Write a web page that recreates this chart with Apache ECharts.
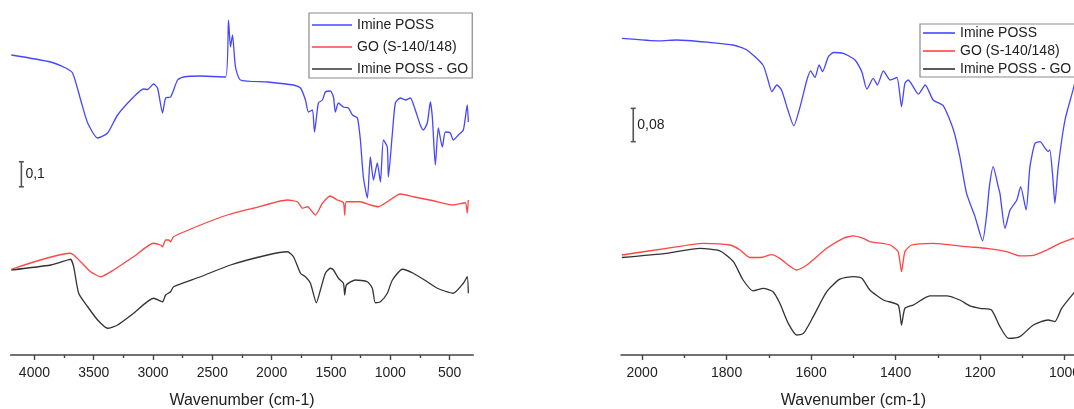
<!DOCTYPE html>
<html>
<head>
<meta charset="utf-8">
<script src="https://cdn.jsdelivr.net/npm/echarts@6/dist/echarts.min.js"></script>
<style>
  html, body { margin: 0; padding: 0; background: #fff; }
  #chart { width: 1074px; height: 409px; }
</style>
</head>
<body>
<div id="chart"></div>
<script>
// FTIR spectra, [wavenumber (cm-1), offset absorbance]
const seriesNames = ['Imine POSS', 'GO (S-140/148)', 'Imine POSS - GO'];

// Full range 4200-300 cm-1
const fullImine = [
  [4195,1.200],[3863,1.172],[3737,1.148],[3678,1.128],[3610,1.020],[3551,0.928],[3467,0.868],[3383,0.888],
  [3299,0.960],[3164,1.032],[3080,1.064],[3046,1.062],[2996,1.084],[2962,1.068],[2920,0.968],[2894,1.028],
  [2852,1.032],[2793,1.100],[2743,1.112],[2600,1.116],[2389,1.112],[2364,1.340],[2347,1.232],[2330,1.280],
  [2305,1.152],[2263,1.100],[2035,1.092],[1816,1.080],[1757,1.068],[1715,1.020],[1690,0.972],[1656,0.980],
  [1639,0.892],[1606,1.008],[1572,1.020],[1547,1.052],[1505,1.056],[1479,1.032],[1463,0.972],[1437,1.008],
  [1395,0.992],[1353,0.988],[1319,0.960],[1277,0.948],[1252,0.860],[1227,0.712],[1193,0.628],[1168,0.792],
  [1142,0.700],[1109,0.768],[1083,0.692],[1058,0.860],[1025,0.832],[1016,0.712],[982,0.888],[957,1.008],
  [915,1.028],[873,1.020],[831,1.028],[789,0.980],[747,0.920],[721,0.900],[688,0.928],[662,1.012],
  [645,0.948],[620,0.760],[595,0.908],[561,0.832],[536,0.892],[494,0.888],[469,0.860],[426,0.880],
  [384,0.900],[351,1.000],[342,0.932]
];
const fullGO = [
  [4195,0.343],[3695,0.407],[3610,0.373],[3526,0.333],[3442,0.313],[3332,0.340],[3164,0.393],[2996,0.447],
  [2937,0.440],[2920,0.433],[2894,0.460],[2869,0.460],[2852,0.453],[2827,0.473],[2600,0.520],[2372,0.560],
  [2153,0.587],[1867,0.620],[1783,0.613],[1740,0.587],[1698,0.593],[1631,0.560],[1572,0.607],[1505,0.636],
  [1446,0.620],[1395,0.609],[1384,0.560],[1370,0.613],[1252,0.613],[1168,0.600],[1100,0.593],[1025,0.613],
  [915,0.644],[806,0.633],[637,0.617],[469,0.600],[368,0.609],[351,0.567],[342,0.620]
];
const fullComposite = [
  [4195,0.340],[3863,0.360],[3720,0.380],[3695,0.383],[3669,0.353],[3627,0.247],[3551,0.193],[3467,0.140],
  [3383,0.107],[3299,0.120],[3164,0.167],[2996,0.227],[2920,0.213],[2894,0.240],[2852,0.253],[2827,0.273],
  [2600,0.313],[2347,0.360],[2035,0.400],[1867,0.413],[1816,0.393],[1757,0.327],[1715,0.313],[1673,0.287],
  [1623,0.209],[1589,0.260],[1547,0.327],[1505,0.347],[1479,0.340],[1437,0.307],[1395,0.287],[1384,0.240],
  [1370,0.280],[1294,0.300],[1193,0.293],[1151,0.267],[1126,0.209],[1083,0.213],[1025,0.247],[982,0.300],
  [898,0.343],[806,0.327],[688,0.293],[603,0.267],[469,0.247],[384,0.287],[351,0.313],[342,0.247]
];

// Fingerprint region 2050-950 cm-1
const zoomImine = [
  [2048,0.760],[1958,0.754],[1918,0.756],[1839,0.750],[1785,0.744],[1752,0.732],[1714,0.696],[1702,0.660],
  [1693,0.632],[1681,0.648],[1670,0.636],[1655,0.588],[1641,0.550],[1626,0.596],[1610,0.660],[1601,0.682],
  [1591,0.666],[1581,0.696],[1573,0.680],[1559,0.716],[1547,0.726],[1524,0.724],[1496,0.708],[1480,0.680],
  [1468,0.638],[1453,0.664],[1443,0.648],[1429,0.682],[1413,0.660],[1397,0.666],[1386,0.596],[1378,0.652],
  [1370,0.660],[1346,0.626],[1330,0.648],[1311,0.612],[1287,0.598],[1263,0.540],[1248,0.476],[1232,0.388],
  [1212,0.332],[1194,0.274],[1184,0.341],[1178,0.404],[1169,0.452],[1157,0.404],[1153,0.388],[1141,0.304],
  [1129,0.348],[1113,0.372],[1104,0.404],[1091,0.348],[1082,0.452],[1070,0.508],[1058,0.512],[1046,0.496],
  [1039,0.488],[1035,0.492],[1028,0.428],[1023,0.364],[1015,0.452],[999,0.564],[979,0.640],[960,0.720]
];
const zoomGO = [
  [2048,0.240],[1942,0.256],[1855,0.268],[1792,0.264],[1768,0.252],[1745,0.234],[1721,0.234],[1693,0.241],
  [1674,0.232],[1654,0.216],[1634,0.204],[1610,0.216],[1563,0.256],[1524,0.280],[1500,0.286],[1476,0.280],
  [1461,0.272],[1413,0.264],[1394,0.248],[1386,0.200],[1378,0.248],[1362,0.264],[1311,0.268],[1232,0.260],
  [1184,0.256],[1137,0.248],[1106,0.238],[1074,0.239],[1042,0.252],[1011,0.268],[979,0.280],[960,0.290]
];
const zoomComposite = [
  [2048,0.234],[1942,0.244],[1863,0.256],[1816,0.250],[1784,0.224],[1761,0.180],[1737,0.154],[1713,0.160],
  [1690,0.152],[1674,0.124],[1654,0.076],[1634,0.048],[1618,0.052],[1595,0.092],[1563,0.152],[1532,0.182],
  [1500,0.188],[1480,0.184],[1461,0.156],[1429,0.132],[1394,0.120],[1386,0.072],[1378,0.112],[1358,0.120],
  [1319,0.142],[1279,0.142],[1248,0.132],[1224,0.118],[1200,0.112],[1173,0.108],[1153,0.068],[1133,0.040],
  [1106,0.044],[1074,0.072],[1039,0.084],[1023,0.080],[1007,0.112],[979,0.148],[960,0.170]
];

// Tick values for both wavenumber axes
const fullMajorTicks = [4000, 3500, 3000, 2500, 2000, 1500, 1000, 500];
const fullMinorTicks = [3750, 3250, 2750, 2250, 1750, 1250, 750];
const zoomMajorTicks = [2000, 1800, 1600, 1400, 1200, 1000];
const zoomMinorTicks = [1900, 1700, 1500, 1300, 1100];

// Absorbance scale bars: [wavenumber, lower value, length, label]
const fullScaleBar = [[4110, 0.673, 0.1, '0,1']];
const zoomScaleBar = [[2021, 0.512, 0.08, '0,08']];

const colors = ['#4646ff', '#ff4545', '#333333'];
const FONT = '"Liberation Sans", Arial, sans-serif';

const chart = echarts.init(document.getElementById('chart'), null, { renderer: 'canvas' });

function majorAxis(gridIndex, min, max, ticks) {
  return {
    type: 'value', gridIndex, min, max, inverse: true,
    name: 'Wavenumber (cm-1)', nameLocation: 'middle', nameGap: 38,
    nameTextStyle: { fontFamily: FONT, fontSize: 16, color: '#222' },
    axisLine: { show: true, onZero: false, lineStyle: { color: '#444', width: 1.6 } },
    axisTick: { show: true, length: 5, customValues: ticks, lineStyle: { color: '#444', width: 1.4 } },
    axisLabel: { show: true, customValues: ticks, margin: 11, fontFamily: FONT, fontSize: 14, color: '#222',
                 formatter: v => String(v) },
    splitLine: { show: false }
  };
}
function minorAxis(gridIndex, min, max, ticks) {
  return {
    type: 'value', gridIndex, min, max, inverse: true, position: 'bottom',
    axisLine: { show: false },
    axisTick: { show: true, length: 3, customValues: ticks, lineStyle: { color: '#444', width: 1.4 } },
    axisLabel: { show: false },
    splitLine: { show: false }
  };
}
function yAxis(gridIndex, max) {
  return { type: 'value', gridIndex, min: 0, max, show: false, splitLine: { show: false } };
}

function spectrum(name, data, idx, axisIdx) {
  return {
    type: 'line', name, data, xAxisIndex: axisIdx, yAxisIndex: axisIdx >= 2 ? 1 : 0,
    showSymbol: false, symbol: 'none', smooth: 0.2,
    lineStyle: { color: colors[idx], width: 1.3 },
    itemStyle: { color: colors[idx] },
    z: 3 - idx
  };
}

function scaleBar(data, axisIdx) {
  return {
    type: 'custom', xAxisIndex: axisIdx, yAxisIndex: axisIdx >= 2 ? 1 : 0,
    data, silent: true,
    renderItem(params, api) {
      const wn = api.value(0), lo = api.value(1), len = api.value(2);
      const p0 = api.coord([wn, lo]);
      const p1 = api.coord([wn, lo + len]);
      const st = { stroke: '#555', lineWidth: 1.6 };
      return {
        type: 'group',
        children: [
          { type: 'line', shape: { x1: p0[0], y1: p0[1], x2: p1[0], y2: p1[1] }, style: st },
          { type: 'line', shape: { x1: p0[0] - 2.5, y1: p0[1], x2: p0[0] + 2.5, y2: p0[1] }, style: st },
          { type: 'line', shape: { x1: p1[0] - 2.5, y1: p1[1], x2: p1[0] + 2.5, y2: p1[1] }, style: st },
          { type: 'text', x: p0[0] + 4, y: (p0[1] + p1[1]) / 2,
            style: { text: data[params.dataIndex][3], fill: '#222', font: '14px ' + FONT,
                     verticalAlign: 'middle', align: 'left' } }
        ]
      };
    }
  };
}

const legendBase = {
  data: seriesNames, orient: 'vertical', icon: 'rect',
  borderColor: '#8a8a8a', borderWidth: 1.2, backgroundColor: '#fff',
  textStyle: { fontFamily: FONT, fontSize: 14, color: '#222' },
  selectedMode: false
};

const option = {
  backgroundColor: '#fff',
  animation: false,
  grid: [
    { left: 10.7, top: 0, width: 462.6, height: 355, outerBoundsMode: 'none', containLabel: false },
    { left: 621, top: 0, width: 464.7, height: 355, outerBoundsMode: 'none', containLabel: false }
  ],
  xAxis: [
    majorAxis(0, 300, 4200, fullMajorTicks),
    minorAxis(0, 300, 4200, fullMinorTicks),
    majorAxis(1, 950, 2050, zoomMajorTicks),
    minorAxis(1, 950, 2050, zoomMinorTicks)
  ],
  yAxis: [yAxis(0, 1.42), yAxis(1, 0.852)],
  legend: [
    Object.assign({}, legendBase, {
      left: 309, top: 13, itemWidth: 40, itemHeight: 1.6, itemGap: 8, padding: [5, 4, 2, 3]
    }),
    Object.assign({}, legendBase, {
      left: 920, top: 24, itemWidth: 32, itemHeight: 1.6, itemGap: 4, padding: [2, 4, 1, 3]
    })
  ],
  series: [
    spectrum(seriesNames[0], fullImine, 0, 0),
    spectrum(seriesNames[1], fullGO, 1, 0),
    spectrum(seriesNames[2], fullComposite, 2, 0),
    spectrum(seriesNames[0], zoomImine, 0, 2),
    spectrum(seriesNames[1], zoomGO, 1, 2),
    spectrum(seriesNames[2], zoomComposite, 2, 2),
    scaleBar(fullScaleBar, 0),
    scaleBar(zoomScaleBar, 2)
  ]
};
chart.setOption(option);
</script>
</body>
</html>
